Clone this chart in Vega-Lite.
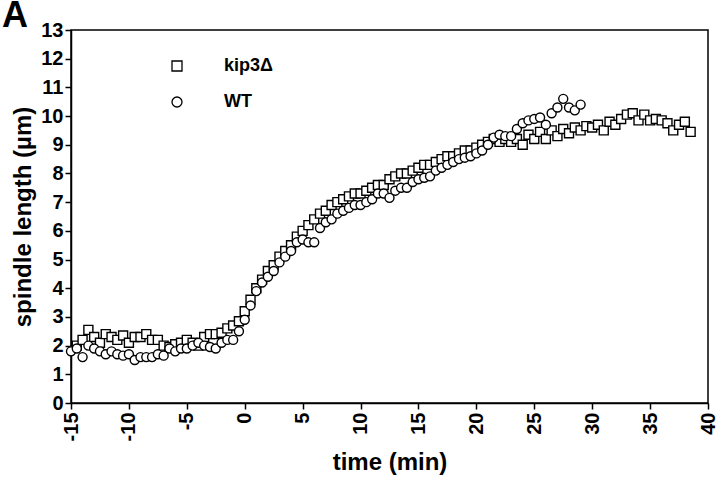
{
  "$schema": "https://vega.github.io/schema/vega-lite/v6.json",
  "width": 637,
  "height": 373,
  "autosize": {"type": "none"},
  "padding": {"left": 71, "top": 30, "right": 12, "bottom": 86},
  "background": "white",
  "title": {"text": "A", "anchor": "start", "frame": "group", "dx": -69, "dy": 17, "offset": 2, "fontSize": 36, "fontWeight": "bold", "font": "Liberation Sans", "color": "black"},
  "config": {
    "view": {"stroke": "black", "strokeWidth": 1.5},
    "axis": {"grid": false, "domainColor": "black", "domainWidth": 1.5, "tickColor": "black", "tickWidth": 1.5, "tickSize": 6, "labelFont": "Liberation Sans", "labelFontWeight": "bold", "labelFontSize": 20, "labelColor": "black", "titleFont": "Liberation Sans", "titleFontWeight": "bold", "titleFontSize": 24, "titleColor": "black"}
  },
  "data": {"values": [
    {"t": -14.5, "v": 2.0, "s": "kip3Δ"}, {"t": -14, "v": 2.2, "s": "kip3Δ"}, {"t": -13.5, "v": 2.55, "s": "kip3Δ"}, {"t": -13, "v": 2.3, "s": "kip3Δ"}, {"t": -12.5, "v": 2.1, "s": "kip3Δ"}, {"t": -12, "v": 2.4, "s": "kip3Δ"}, {"t": -11.5, "v": 2.3, "s": "kip3Δ"}, {"t": -11, "v": 2.2, "s": "kip3Δ"}, {"t": -10.5, "v": 2.35, "s": "kip3Δ"}, {"t": -10, "v": 2.1, "s": "kip3Δ"}, {"t": -9.5, "v": 2.3, "s": "kip3Δ"}, {"t": -9, "v": 2.3, "s": "kip3Δ"}, {"t": -8.5, "v": 2.4, "s": "kip3Δ"}, {"t": -8, "v": 2.2, "s": "kip3Δ"}, {"t": -7.5, "v": 2.2, "s": "kip3Δ"}, {"t": -7, "v": 2.0, "s": "kip3Δ"}, {"t": -6.5, "v": 1.95, "s": "kip3Δ"}, {"t": -6, "v": 2.05, "s": "kip3Δ"}, {"t": -5.5, "v": 2.1, "s": "kip3Δ"}, {"t": -5, "v": 2.2, "s": "kip3Δ"}, {"t": -4.5, "v": 2.1, "s": "kip3Δ"}, {"t": -4, "v": 2.0, "s": "kip3Δ"}, {"t": -3.5, "v": 2.3, "s": "kip3Δ"}, {"t": -3, "v": 2.4, "s": "kip3Δ"}, {"t": -2.5, "v": 2.4, "s": "kip3Δ"}, {"t": -2, "v": 2.45, "s": "kip3Δ"}, {"t": -1.5, "v": 2.6, "s": "kip3Δ"}, {"t": -1, "v": 2.7, "s": "kip3Δ"}, {"t": -0.5, "v": 2.85, "s": "kip3Δ"}, {"t": 0, "v": 3.2, "s": "kip3Δ"}, {"t": 0.5, "v": 3.6, "s": "kip3Δ"}, {"t": 1, "v": 4.0, "s": "kip3Δ"}, {"t": 1.5, "v": 4.3, "s": "kip3Δ"}, {"t": 2, "v": 4.6, "s": "kip3Δ"}, {"t": 2.5, "v": 4.8, "s": "kip3Δ"}, {"t": 3, "v": 5.1, "s": "kip3Δ"}, {"t": 3.5, "v": 5.3, "s": "kip3Δ"}, {"t": 4, "v": 5.5, "s": "kip3Δ"}, {"t": 4.5, "v": 5.8, "s": "kip3Δ"}, {"t": 5, "v": 6.0, "s": "kip3Δ"}, {"t": 5.5, "v": 6.2, "s": "kip3Δ"}, {"t": 6, "v": 6.4, "s": "kip3Δ"}, {"t": 6.5, "v": 6.6, "s": "kip3Δ"}, {"t": 7, "v": 6.7, "s": "kip3Δ"}, {"t": 7.5, "v": 6.9, "s": "kip3Δ"}, {"t": 8, "v": 7.0, "s": "kip3Δ"}, {"t": 8.5, "v": 7.1, "s": "kip3Δ"}, {"t": 9, "v": 7.2, "s": "kip3Δ"}, {"t": 9.5, "v": 7.3, "s": "kip3Δ"}, {"t": 10, "v": 7.3, "s": "kip3Δ"}, {"t": 10.5, "v": 7.4, "s": "kip3Δ"}, {"t": 11, "v": 7.5, "s": "kip3Δ"}, {"t": 11.5, "v": 7.6, "s": "kip3Δ"}, {"t": 12, "v": 7.6, "s": "kip3Δ"}, {"t": 12.5, "v": 7.8, "s": "kip3Δ"}, {"t": 13, "v": 7.9, "s": "kip3Δ"}, {"t": 13.5, "v": 8.0, "s": "kip3Δ"}, {"t": 14, "v": 8.0, "s": "kip3Δ"}, {"t": 14.5, "v": 8.1, "s": "kip3Δ"}, {"t": 15, "v": 8.2, "s": "kip3Δ"}, {"t": 15.5, "v": 8.3, "s": "kip3Δ"}, {"t": 16, "v": 8.3, "s": "kip3Δ"}, {"t": 16.5, "v": 8.4, "s": "kip3Δ"}, {"t": 17, "v": 8.5, "s": "kip3Δ"}, {"t": 17.5, "v": 8.6, "s": "kip3Δ"}, {"t": 18, "v": 8.6, "s": "kip3Δ"}, {"t": 18.5, "v": 8.7, "s": "kip3Δ"}, {"t": 19, "v": 8.8, "s": "kip3Δ"}, {"t": 19.5, "v": 8.8, "s": "kip3Δ"}, {"t": 20, "v": 8.9, "s": "kip3Δ"}, {"t": 20.5, "v": 9.0, "s": "kip3Δ"}, {"t": 21, "v": 9.1, "s": "kip3Δ"}, {"t": 21.5, "v": 9.2, "s": "kip3Δ"}, {"t": 22, "v": 9.1, "s": "kip3Δ"}, {"t": 22.5, "v": 9.2, "s": "kip3Δ"}, {"t": 23, "v": 9.1, "s": "kip3Δ"}, {"t": 23.5, "v": 9.2, "s": "kip3Δ"}, {"t": 24, "v": 9.0, "s": "kip3Δ"}, {"t": 24.5, "v": 9.35, "s": "kip3Δ"}, {"t": 25, "v": 9.2, "s": "kip3Δ"}, {"t": 25.5, "v": 9.45, "s": "kip3Δ"}, {"t": 26, "v": 9.2, "s": "kip3Δ"}, {"t": 26.5, "v": 9.5, "s": "kip3Δ"}, {"t": 27, "v": 9.3, "s": "kip3Δ"}, {"t": 27.5, "v": 9.55, "s": "kip3Δ"}, {"t": 28, "v": 9.4, "s": "kip3Δ"}, {"t": 28.5, "v": 9.6, "s": "kip3Δ"}, {"t": 29, "v": 9.5, "s": "kip3Δ"}, {"t": 29.5, "v": 9.65, "s": "kip3Δ"}, {"t": 30, "v": 9.6, "s": "kip3Δ"}, {"t": 30.5, "v": 9.7, "s": "kip3Δ"}, {"t": 31, "v": 9.5, "s": "kip3Δ"}, {"t": 31.5, "v": 9.8, "s": "kip3Δ"}, {"t": 32, "v": 9.7, "s": "kip3Δ"}, {"t": 32.5, "v": 9.9, "s": "kip3Δ"}, {"t": 33, "v": 10.05, "s": "kip3Δ"}, {"t": 33.5, "v": 10.1, "s": "kip3Δ"}, {"t": 34, "v": 9.85, "s": "kip3Δ"}, {"t": 34.5, "v": 10.05, "s": "kip3Δ"}, {"t": 35, "v": 9.85, "s": "kip3Δ"}, {"t": 35.5, "v": 9.9, "s": "kip3Δ"}, {"t": 36, "v": 9.85, "s": "kip3Δ"}, {"t": 36.5, "v": 9.75, "s": "kip3Δ"}, {"t": 37, "v": 9.5, "s": "kip3Δ"}, {"t": 37.5, "v": 9.7, "s": "kip3Δ"}, {"t": 38, "v": 9.8, "s": "kip3Δ"}, {"t": 38.5, "v": 9.45, "s": "kip3Δ"},
    {"t": -15, "v": 1.8, "s": "WT"}, {"t": -14.5, "v": 1.9, "s": "WT"}, {"t": -14, "v": 1.6, "s": "WT"}, {"t": -13.5, "v": 2.0, "s": "WT"}, {"t": -13, "v": 1.9, "s": "WT"}, {"t": -12.5, "v": 1.8, "s": "WT"}, {"t": -12, "v": 1.7, "s": "WT"}, {"t": -11.5, "v": 1.8, "s": "WT"}, {"t": -11, "v": 1.7, "s": "WT"}, {"t": -10.5, "v": 1.65, "s": "WT"}, {"t": -10, "v": 1.7, "s": "WT"}, {"t": -9.5, "v": 1.5, "s": "WT"}, {"t": -9, "v": 1.6, "s": "WT"}, {"t": -8.5, "v": 1.6, "s": "WT"}, {"t": -8, "v": 1.6, "s": "WT"}, {"t": -7.5, "v": 1.7, "s": "WT"}, {"t": -7, "v": 1.65, "s": "WT"}, {"t": -6.5, "v": 1.9, "s": "WT"}, {"t": -6, "v": 1.8, "s": "WT"}, {"t": -5.5, "v": 1.9, "s": "WT"}, {"t": -5, "v": 1.9, "s": "WT"}, {"t": -4.5, "v": 2.0, "s": "WT"}, {"t": -4, "v": 2.1, "s": "WT"}, {"t": -3.5, "v": 2.0, "s": "WT"}, {"t": -3, "v": 1.95, "s": "WT"}, {"t": -2.5, "v": 1.9, "s": "WT"}, {"t": -2, "v": 2.1, "s": "WT"}, {"t": -1.5, "v": 2.2, "s": "WT"}, {"t": -1, "v": 2.2, "s": "WT"}, {"t": -0.5, "v": 2.5, "s": "WT"}, {"t": 0, "v": 2.9, "s": "WT"}, {"t": 0.5, "v": 3.4, "s": "WT"}, {"t": 1, "v": 3.9, "s": "WT"}, {"t": 1.5, "v": 4.2, "s": "WT"}, {"t": 2, "v": 4.4, "s": "WT"}, {"t": 2.5, "v": 4.6, "s": "WT"}, {"t": 3, "v": 4.9, "s": "WT"}, {"t": 3.5, "v": 5.1, "s": "WT"}, {"t": 4, "v": 5.3, "s": "WT"}, {"t": 4.5, "v": 5.6, "s": "WT"}, {"t": 5, "v": 5.7, "s": "WT"}, {"t": 5.5, "v": 5.6, "s": "WT"}, {"t": 6, "v": 5.6, "s": "WT"}, {"t": 6.5, "v": 6.1, "s": "WT"}, {"t": 7, "v": 6.3, "s": "WT"}, {"t": 7.5, "v": 6.4, "s": "WT"}, {"t": 8, "v": 6.6, "s": "WT"}, {"t": 8.5, "v": 6.7, "s": "WT"}, {"t": 9, "v": 6.8, "s": "WT"}, {"t": 9.5, "v": 6.9, "s": "WT"}, {"t": 10, "v": 6.9, "s": "WT"}, {"t": 10.5, "v": 7.0, "s": "WT"}, {"t": 11, "v": 7.1, "s": "WT"}, {"t": 11.5, "v": 7.3, "s": "WT"}, {"t": 12, "v": 7.3, "s": "WT"}, {"t": 12.5, "v": 7.15, "s": "WT"}, {"t": 13, "v": 7.4, "s": "WT"}, {"t": 13.5, "v": 7.5, "s": "WT"}, {"t": 14, "v": 7.5, "s": "WT"}, {"t": 14.5, "v": 7.7, "s": "WT"}, {"t": 15, "v": 7.8, "s": "WT"}, {"t": 15.5, "v": 7.85, "s": "WT"}, {"t": 16, "v": 7.9, "s": "WT"}, {"t": 16.5, "v": 8.1, "s": "WT"}, {"t": 17, "v": 8.2, "s": "WT"}, {"t": 17.5, "v": 8.3, "s": "WT"}, {"t": 18, "v": 8.4, "s": "WT"}, {"t": 18.5, "v": 8.5, "s": "WT"}, {"t": 19, "v": 8.55, "s": "WT"}, {"t": 19.5, "v": 8.6, "s": "WT"}, {"t": 20, "v": 8.7, "s": "WT"}, {"t": 20.5, "v": 8.8, "s": "WT"}, {"t": 21, "v": 9.0, "s": "WT"}, {"t": 21.5, "v": 9.25, "s": "WT"}, {"t": 22, "v": 9.35, "s": "WT"}, {"t": 22.5, "v": 9.3, "s": "WT"}, {"t": 23, "v": 9.3, "s": "WT"}, {"t": 23.5, "v": 9.55, "s": "WT"}, {"t": 24, "v": 9.75, "s": "WT"}, {"t": 24.5, "v": 9.85, "s": "WT"}, {"t": 25, "v": 9.9, "s": "WT"}, {"t": 25.5, "v": 9.95, "s": "WT"}, {"t": 26, "v": 9.7, "s": "WT"}, {"t": 26.5, "v": 10.1, "s": "WT"}, {"t": 27, "v": 10.3, "s": "WT"}, {"t": 27.5, "v": 10.6, "s": "WT"}, {"t": 28, "v": 10.3, "s": "WT"}, {"t": 28.5, "v": 10.2, "s": "WT"}, {"t": 29, "v": 10.4, "s": "WT"}
  ]},
  "mark": {"type": "point", "size": 81, "fill": "white", "stroke": "black", "strokeWidth": 1.4, "opacity": 1, "filled": true},
  "encoding": {
    "x": {"field": "t", "type": "quantitative", "title": "time (min)", "scale": {"domain": [-15, 40], "nice": false, "zero": false},
      "axis": {"values": [-15, -10, -5, 0, 5, 10, 15, 20, 25, 30, 35, 40], "labelExpr": "replace(datum.label, '−', '-')", "labelAngle": -90, "labelPadding": 3, "titlePadding": 10}},
    "y": {"field": "v", "type": "quantitative", "title": "spindle length (µm)", "scale": {"domain": [0, 13], "nice": false},
      "axis": {"values": [0, 1, 2, 3, 4, 5, 6, 7, 8, 9, 10, 11, 12, 13], "labelPadding": 2, "titlePadding": 5}},
    "shape": {"field": "s", "type": "nominal", "scale": {"domain": ["kip3Δ", "WT"], "range": ["square", "circle"]},
      "legend": {"title": null, "orient": "none", "legendX": 97, "legendY": 27, "padding": 0, "symbolSize": 100, "symbolStrokeWidth": 1.3, "rowPadding": 18, "labelOffset": 38, "labelFont": "Liberation Sans", "labelFontSize": 18, "labelFontWeight": "bold", "labelColor": "black"}}
  }
}
